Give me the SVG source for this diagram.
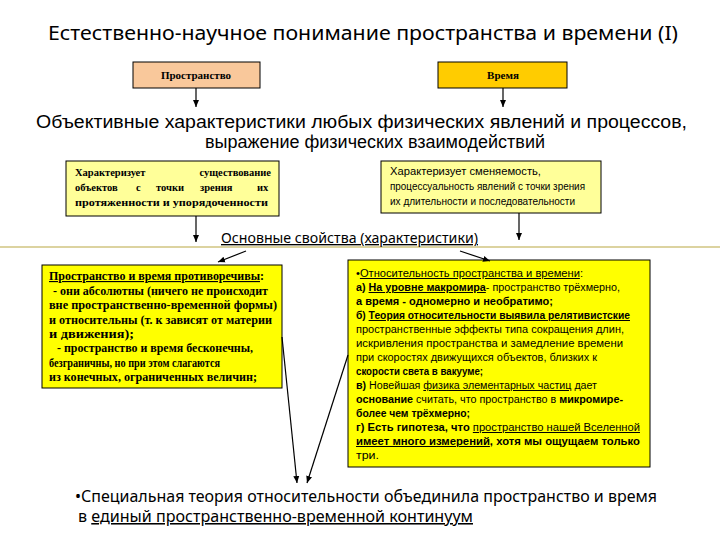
<svg xmlns="http://www.w3.org/2000/svg" width="720" height="540" viewBox="0 0 720 540">
<style>
.box{stroke:#000;stroke-width:1}
.cal{font-family:"Noto Sans","Open Sans","Liberation Sans",sans-serif;fill:#000}
.ar{font-family:"Liberation Sans",Arial,sans-serif;fill:#000}
.sr{font-family:"Liberation Serif","Times New Roman",serif;font-weight:bold;fill:#000}
.sm{font-family:"Liberation Sans",Arial,sans-serif;font-size:10px;fill:#000}
.b{font-weight:bold}
.u{text-decoration:underline}
.con{stroke:#000;stroke-width:1.2;fill:none}
</style>
<defs>
<marker id="ah" markerUnits="userSpaceOnUse" markerWidth="8" markerHeight="8" refX="7" refY="4" orient="auto">
<path d="M0,1 L7,4 L0,7 z" fill="#000"/>
</marker>
</defs>
<rect width="720" height="540" fill="#fff"/>

<g id="title">
<text class="cal" x="48" y="40" font-size="20" textLength="630" lengthAdjust="spacingAndGlyphs">Естественно-научное понимание пространства и времени (I)</text>
</g>

<g id="space">
<rect class="box" x="133" y="62" width="127" height="26" fill="#F9C89B"/>
<text class="sr" x="196" y="79" font-size="11" text-anchor="middle">Пространство</text>
</g>

<g id="time">
<rect class="box" x="438" y="62" width="129" height="26" fill="#FFCC00"/>
<text class="sr" x="503" y="79" font-size="11" text-anchor="middle">Время</text>
</g>

<g id="heading">
<text class="ar" x="36" y="128" font-size="17.5" textLength="651" lengthAdjust="spacingAndGlyphs">Объективные характеристики любых физических явлений и процессов,</text>
<text class="ar" x="205" y="148" font-size="17.5" textLength="340" lengthAdjust="spacingAndGlyphs">выражение физических взаимодействий</text>
</g>

<g id="space-desc">
<rect class="box" x="66" y="161" width="213" height="55" fill="#FFFF99"/>
<text class="sr" font-size="10.5" x="75" y="176">Характеризует</text>
<text class="sr" font-size="10.5" x="271" y="176" text-anchor="end">существование</text>
<text class="sr" font-size="10.5" y="191"><tspan x="75">объектов</tspan><tspan x="136">с</tspan><tspan x="156">точки</tspan><tspan x="200">зрения</tspan><tspan x="257">их</tspan></text>
<text class="sr" font-size="10.5" x="75" y="206" textLength="193" lengthAdjust="spacingAndGlyphs">протяженности и упорядоченности</text>
</g>

<g id="time-desc">
<rect class="box" x="381" y="161" width="220" height="52" fill="#FFFF99"/>
<text class="sm" x="390" y="175" textLength="151" lengthAdjust="spacingAndGlyphs">Характеризует сменяемость,</text>
<text class="sm" x="390" y="190" textLength="195" lengthAdjust="spacingAndGlyphs">процессуальность явлений с точки зрения</text>
<text class="sm" x="390" y="205" textLength="185" lengthAdjust="spacingAndGlyphs">их длительности и последовательности</text>
</g>

<g id="properties-label">
<line x1="0" y1="247" x2="720" y2="247" stroke="#DCD3A0" stroke-width="2"/>
<text class="cal u" x="221" y="243" font-size="13.5" textLength="257" lengthAdjust="spacingAndGlyphs">Основные свойства (характеристики)</text>
</g>

<g id="left-props">
<rect class="box" x="42" y="265" width="240" height="123" fill="#FFFF00"/>
<text class="sr" font-size="11.5" x="49" y="280" textLength="215" lengthAdjust="spacingAndGlyphs"><tspan class="u">Пространство и время противоречивы</tspan>:</text>
<text class="sr" font-size="11.5" x="53" y="294.5" textLength="215" lengthAdjust="spacingAndGlyphs">- они абсолютны (ничего не происходит</text>
<text class="sr" font-size="11.5" x="49" y="309" textLength="228" lengthAdjust="spacingAndGlyphs">вне пространственно-временной формы)</text>
<text class="sr" font-size="11.5" x="49" y="323.5" textLength="223" lengthAdjust="spacingAndGlyphs">и относительны (т. к зависят от материи</text>
<text class="sr" font-size="11.5" x="49" y="338" textLength="85" lengthAdjust="spacingAndGlyphs">и движения);</text>
<text class="sr" font-size="11.5" x="57" y="352" textLength="196" lengthAdjust="spacingAndGlyphs">- пространство и время бесконечны,</text>
<text class="sr" font-size="11.5" x="49" y="366.5" textLength="171" lengthAdjust="spacingAndGlyphs">безграничны, но при этом слагаются</text>
<text class="sr" font-size="11.5" x="49" y="381" textLength="208" lengthAdjust="spacingAndGlyphs">из конечных, ограниченных величин;</text>
</g>

<g id="right-props">
<rect class="box" x="348" y="260" width="302" height="207" fill="#FFFF00"/>
<text class="sm" x="356" y="277" textLength="227" lengthAdjust="spacingAndGlyphs">•<tspan class="u">Относительность пространства и времени</tspan>:</text>
<text class="sm" x="356" y="291" textLength="264" lengthAdjust="spacingAndGlyphs"><tspan class="b">а) </tspan><tspan class="b u">На уровне макромира</tspan>- пространство трёхмерно,</text>
<text class="sm b" x="356" y="305" textLength="197" lengthAdjust="spacingAndGlyphs">а время - одномерно и необратимо;</text>
<text class="sm b" x="356" y="319" textLength="274" lengthAdjust="spacingAndGlyphs">б) <tspan class="u">Теория относительности выявила релятивистские</tspan></text>
<text class="sm" x="356" y="333" textLength="268" lengthAdjust="spacingAndGlyphs">пространственные эффекты типа сокращения длин,</text>
<text class="sm" x="356" y="347" textLength="267" lengthAdjust="spacingAndGlyphs">искривления пространства и замедление времени</text>
<text class="sm" x="356" y="361" textLength="241" lengthAdjust="spacingAndGlyphs">при скоростях движущихся объектов, близких к</text>
<text class="sm b" x="356" y="375" textLength="127" lengthAdjust="spacingAndGlyphs">скорости света в вакууме;</text>
<text class="sm" x="356" y="389" textLength="241" lengthAdjust="spacingAndGlyphs"><tspan class="b">в)</tspan> Новейшая <tspan class="u">физика элементарных частиц</tspan> дает</text>
<text class="sm" x="356" y="403" textLength="267" lengthAdjust="spacingAndGlyphs"><tspan class="b">основание</tspan> считать, что пространство в <tspan class="b">микромире-</tspan></text>
<text class="sm b" x="356" y="417" textLength="114" lengthAdjust="spacingAndGlyphs">более чем трёхмерно;</text>
<text class="sm" x="356" y="431" textLength="284" lengthAdjust="spacingAndGlyphs"><tspan class="b">г) Есть гипотеза, что </tspan><tspan class="u">пространство нашей Вселенной</tspan></text>
<text class="sm b" x="356" y="445" textLength="284" lengthAdjust="spacingAndGlyphs"><tspan class="u">имеет много измерений</tspan>, хотя мы ощущаем только</text>
<text class="sm" x="356" y="459" textLength="23" lengthAdjust="spacingAndGlyphs">три.</text>
</g>

<g id="conclusion">
<text class="cal" x="75" y="502" font-size="15.5" textLength="582" lengthAdjust="spacingAndGlyphs">•Специальная теория относительности объединила пространство и время</text>
<text class="cal" x="78" y="522" font-size="15.5" textLength="395" lengthAdjust="spacingAndGlyphs">в <tspan class="u">единый пространственно-временной континуум</tspan></text>
</g>

<g id="connectors">
<line class="con" x1="196" y1="88" x2="196" y2="107" marker-end="url(#ah)"/>
<line class="con" x1="503" y1="88" x2="503" y2="107" marker-end="url(#ah)"/>
<line class="con" x1="196" y1="216" x2="196" y2="242" marker-end="url(#ah)"/>
<line class="con" x1="519" y1="213" x2="519" y2="240" marker-end="url(#ah)"/>
<line class="con" x1="246" y1="251" x2="218" y2="262" marker-end="url(#ah)"/>
<line class="con" x1="460" y1="251" x2="490" y2="261" marker-end="url(#ah)"/>
<line class="con" x1="282" y1="337" x2="297" y2="483" marker-end="url(#ah)"/>
<line class="con" x1="348" y1="355" x2="307" y2="483" marker-end="url(#ah)"/>
</g>
</svg>
